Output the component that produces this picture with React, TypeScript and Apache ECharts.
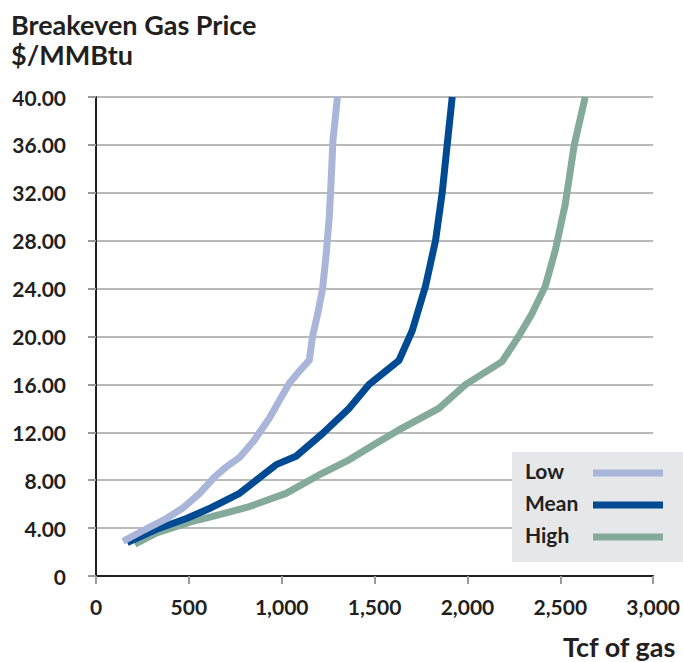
import React, { useEffect, useRef } from "react";
import * as echarts from "echarts";

const xTicks = [0, 500, 1000, 1500, 2000, 2500, 3000];
const yTicks = [0, 4, 8, 12, 16, 20, 24, 28, 32, 36, 40];

const lowSeries: [number, number][] = [
  [146, 2.9], [254, 3.8], [379, 4.8], [470, 5.7], [558, 6.9], [640, 8.3], [701, 9.1],
  [773, 9.9], [850, 11.3], [934, 13.2], [1000, 15], [1041, 16.1], [1100, 17.2],
  [1148, 18], [1166, 20], [1195, 22], [1220, 24], [1240, 27], [1256, 30], [1266, 33],
  [1276, 36.4], [1300, 40],
];
const meanSeries: [number, number][] = [
  [168, 2.8], [326, 3.9], [487, 4.8], [620, 5.7], [773, 6.9], [970, 9.3], [1077, 10],
  [1220, 11.9], [1363, 14], [1470, 16], [1631, 18], [1703, 20.5], [1774, 24.2],
  [1828, 28], [1864, 32], [1884, 35], [1918, 40],
];
const highSeries: [number, number][] = [
  [209, 2.65], [326, 3.6], [505, 4.5], [660, 5.1], [826, 5.8], [1023, 6.9], [1220, 8.6],
  [1363, 9.7], [1500, 11], [1631, 12.2], [1846, 14], [1991, 16], [2186, 17.9],
  [2275, 20], [2347, 21.9], [2419, 24.2], [2473, 27.2], [2526, 31], [2575, 36], [2634, 40],
];

const seriesNames = ["Low", "Mean", "High"];
const seriesColors = ["#a9b5d9", "#004a94", "#84aa9b"];

const FONT = "Lato, 'Open Sans', sans-serif";
const TEXT = "#231f20";

export default function App() {
  const ref = useRef<HTMLDivElement>(null);
  useEffect(() => {
    if (!ref.current) return;
    const chart = echarts.init(ref.current, null, { renderer: "svg" });
    const data = [lowSeries, meanSeries, highSeries];
    const legendTop = 452;
    const legendItems: any[] = [];
    seriesNames.forEach((n, i) => {
      const cy = 473 + i * 32;
      legendItems.push({
        type: "text",
        left: 525,
        top: cy - 13,
        style: { text: n, font: `bold 21px ${FONT}`, fill: TEXT },
      });
      legendItems.push({
        type: "line",
        shape: { x1: 593, y1: cy, x2: 663, y2: cy },
        style: { stroke: seriesColors[i], lineWidth: 7 },
      });
    });
    chart.setOption({
      animation: false,
      backgroundColor: "#ffffff",
      title: {
        text: "Breakeven Gas Price\n$/MMBtu",
        left: 6,
        top: 4,
        textStyle: { fontFamily: FONT, fontSize: 27, fontWeight: "bold", color: TEXT, lineHeight: 30 },
      },
      grid: { left: 96, right: 28, top: 97, bottom: 86 },
      xAxis: {
        type: "value",
        min: xTicks[0],
        max: xTicks[xTicks.length - 1],
        interval: 500,
        axisLine: { show: true, onZero: false, lineStyle: { color: "#231f20", width: 2 } },
        axisTick: { show: true, length: 8, lineStyle: { color: "#9a9a9a", width: 2 } },
        splitLine: { show: false },
        axisLabel: {
          margin: 20,
          fontFamily: FONT,
          fontSize: 21,
          fontWeight: "bold",
          color: TEXT,
          formatter: (v: number) => v.toLocaleString("en-US"),
        },
      },
      yAxis: {
        type: "value",
        min: yTicks[0],
        max: yTicks[yTicks.length - 1],
        interval: 4,
        axisLine: { show: true, lineStyle: { color: "#231f20", width: 2 } },
        axisTick: { show: true, length: 8, lineStyle: { color: "#9a9a9a", width: 2 } },
        splitLine: { show: true, lineStyle: { color: "#a3a3a3", width: 1.5 } },
        axisLabel: {
          margin: 30,
          fontFamily: FONT,
          fontSize: 21,
          fontWeight: "bold",
          color: TEXT,
          formatter: (v: number) => (v === 0 ? "0" : v.toFixed(2)),
        },
      },
      series: data.map((d, i) => ({
        name: seriesNames[i],
        type: "line",
        data: d,
        showSymbol: false,
        symbol: "none",
        lineStyle: { color: seriesColors[i], width: 7, cap: "butt", join: "round" },
        itemStyle: { color: seriesColors[i] },
        z: 3 - i === 0 ? 1 : 3 - i,
      })),
      graphic: [
        {
          type: "rect",
          shape: { x: 512, y: legendTop, width: 171, height: 110 },
          style: { fill: "#e6e7e8" },
          z: 10,
        },
        ...legendItems.map((g) => ({ ...g, z: 11 })),
        {
          type: "text",
          left: 563,
          top: 633,
          style: { text: "Tcf of gas", font: `bold 27px ${FONT}`, fill: TEXT },
        },
      ],
    });
    return () => chart.dispose();
  }, []);
  return (
    <div
      ref={ref}
      style={{ position: "fixed", left: 0, top: 0, width: 683, height: 662 }}
    />
  );
}
